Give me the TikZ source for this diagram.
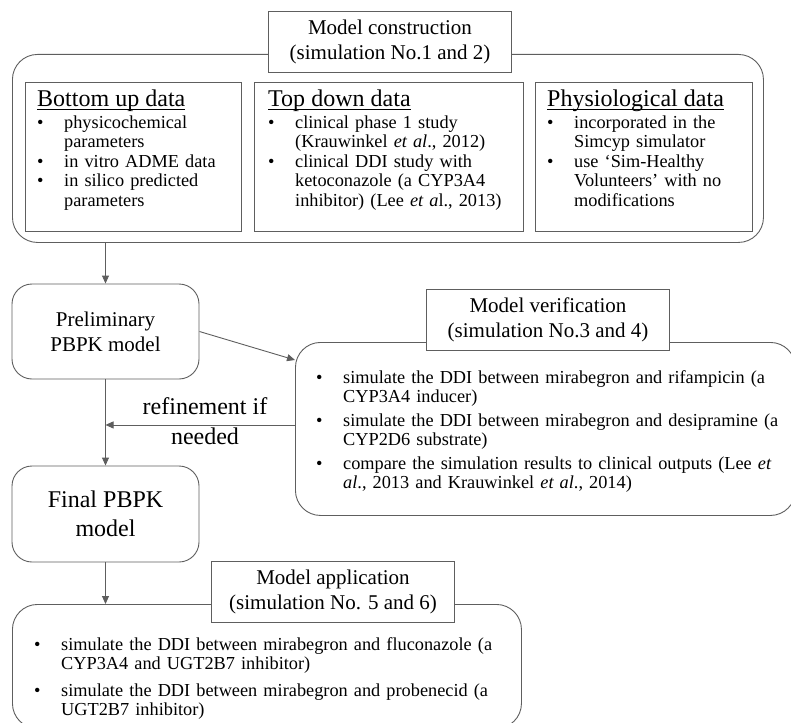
\documentclass[tikz,border=0pt]{standalone}
\usepackage{fontspec}
\setmainfont{Liberation Serif}
\usetikzlibrary{arrows.meta}
\definecolor{linegray}{HTML}{5E5E5E}
\newlength{\bindent}
\setlength{\bindent}{27pt}
\newcommand{\listfont}{\fontsize{18.3}{19.5}\selectfont}
\newcommand{\titlefont}{\fontsize{21}{25}\selectfont}
\newcommand{\bigfont}{\fontsize{24}{29.5}\selectfont}
\newcommand{\bitem}[2][0pt]{%
  \ifdim#1>0pt\vspace{#1}\fi
  \hangindent=\bindent\hangafter=1\noindent
  \makebox[\bindent][l]{\textbullet}#2\par
}
\newcommand{\datahead}[1]{%
  {\fontsize{24}{20}\selectfont
   \setbox0=\hbox{#1}\rlap{\rule[-3pt]{\wd0}{0.9pt}}\box0\par}%
  \vspace{2pt}%
}

\begin{document}
\begin{tikzpicture}[
        x=1pt, y=-1pt,
        >={Triangle[length=8pt,width=7pt]},
        groupbox/.style={draw=linegray, line width=0.9pt, rounded corners=25pt, inner sep=0pt},
        databox/.style={draw=linegray, line width=0.9pt, inner sep=0pt},
        titlebox/.style={draw=linegray, line width=0.9pt, fill=white, inner sep=0pt,
          minimum width=243pt, minimum height=61pt, align=center, font=\titlefont},
        modelbox/.style={draw=linegray, line width=0.9pt, rounded corners=20pt,
          minimum width=187pt, align=center},
        listtext/.style={inner sep=0pt, anchor=base west, font=\listfont, text width=#1},
        flow/.style={draw=linegray, line width=0.9pt, ->},
      ]
      \path[use as bounding box] (0,0) rectangle (791,722);
      \clip (0,0) rectangle (791,722);

      % model construction
      \node[groupbox, minimum width=751pt, minimum height=188pt, anchor=north west] (build) at (12,54) {};
      \node[databox, minimum width=216pt, minimum height=149pt, anchor=north west] (bottomup) at (25,82) {};
      \node[databox, minimum width=269pt, minimum height=149pt, anchor=north west] (topdown) at (254,82) {};
      \node[databox, minimum width=217pt, minimum height=149pt, anchor=north west] (physio) at (535,82) {};
      \node[listtext=200pt] (bottomuptext) at (37,107) {%
        \datahead{Bottom up data}
        \bitem{physicochemical\newline parameters}
        \bitem{in vitro ADME data}
        \bitem{in silico predicted\newline parameters}};
      \node[listtext=250pt] (topdowntext) at (268,107) {%
        \datahead{Top down data}
        \bitem{clinical phase 1 study\newline (Krauwinkel \textit{et al}., 2012)}
        \bitem{clinical DDI study with\newline ketoconazole (a CYP3A4\newline inhibitor) (Lee \textit{et a}l., 2013)}};
      \node[listtext=200pt] (physiotext) at (547,107) {%
        \datahead{Physiological data}
        \bitem{incorporated in the\newline Simcyp simulator}
        \bitem{use `Sim-Healthy\newline Volunteers' with no\newline modifications}};
      \node[titlebox] (buildtitle) at (390,42) {Model construction\\(simulation No.1 and 2)};

      % model verification
      \node[groupbox, minimum width=500pt, minimum height=173pt, anchor=north west] (verify) at (295,342) {};
      \node[listtext=520pt] (verifytext) at (316,383) {%
        \bitem{simulate the DDI between mirabegron and rifampicin (a\newline CYP3A4 inducer)}
        \bitem[4pt]{simulate the DDI between mirabegron and desipramine (a\newline CYP2D6 substrate)}
        \bitem[4pt]{compare the simulation results to clinical outputs (Lee \textit{et}\newline \textit{al}., 2013 and Krauwinkel \textit{et al}., 2014)}};
      \node[titlebox] (verifytitle) at (548,320) {Model verification\\(simulation No.3 and 4)};

      % model application
      \node[groupbox, minimum width=509pt, minimum height=124pt, anchor=north west] (apply) at (12,604) {};
      \node[listtext=480pt] (applytext) at (34,650) {%
        \bitem{simulate the DDI between mirabegron and fluconazole (a\newline CYP3A4 and UGT2B7 inhibitor)}
        \bitem[7pt]{simulate the DDI between mirabegron and probenecid (a\newline UGT2B7 inhibitor)}};
      \node[titlebox] (applytitle) at (333,592) {Model application\\(simulation No. 5 and 6)};

      % models
      \node[modelbox, minimum height=95pt, font=\titlefont] (prelim) at (105.5,331.5) {Preliminary\\PBPK model};
      \node[modelbox, minimum height=96pt, font=\bigfont] (final) at (105.5,514) {Final PBPK\\model};
      \node[font=\bigfont, align=center] (refine) at (205,421) {refinement if\\needed};

      % connectors
      \coordinate (back) at ([yshift=4pt]verify.west);
      \draw[flow] (prelim.north |- build.south) -- (prelim.north);
      \draw[flow] (prelim.east) -- ([yshift=-18pt]verify.north west);
      \draw[flow] (back) -- (back -| prelim.south);
      \draw[flow] (prelim.south) -- (final.north);
      \draw[flow] (final.south) -- (final.south |- apply.north);
\end{tikzpicture}
\end{document}
